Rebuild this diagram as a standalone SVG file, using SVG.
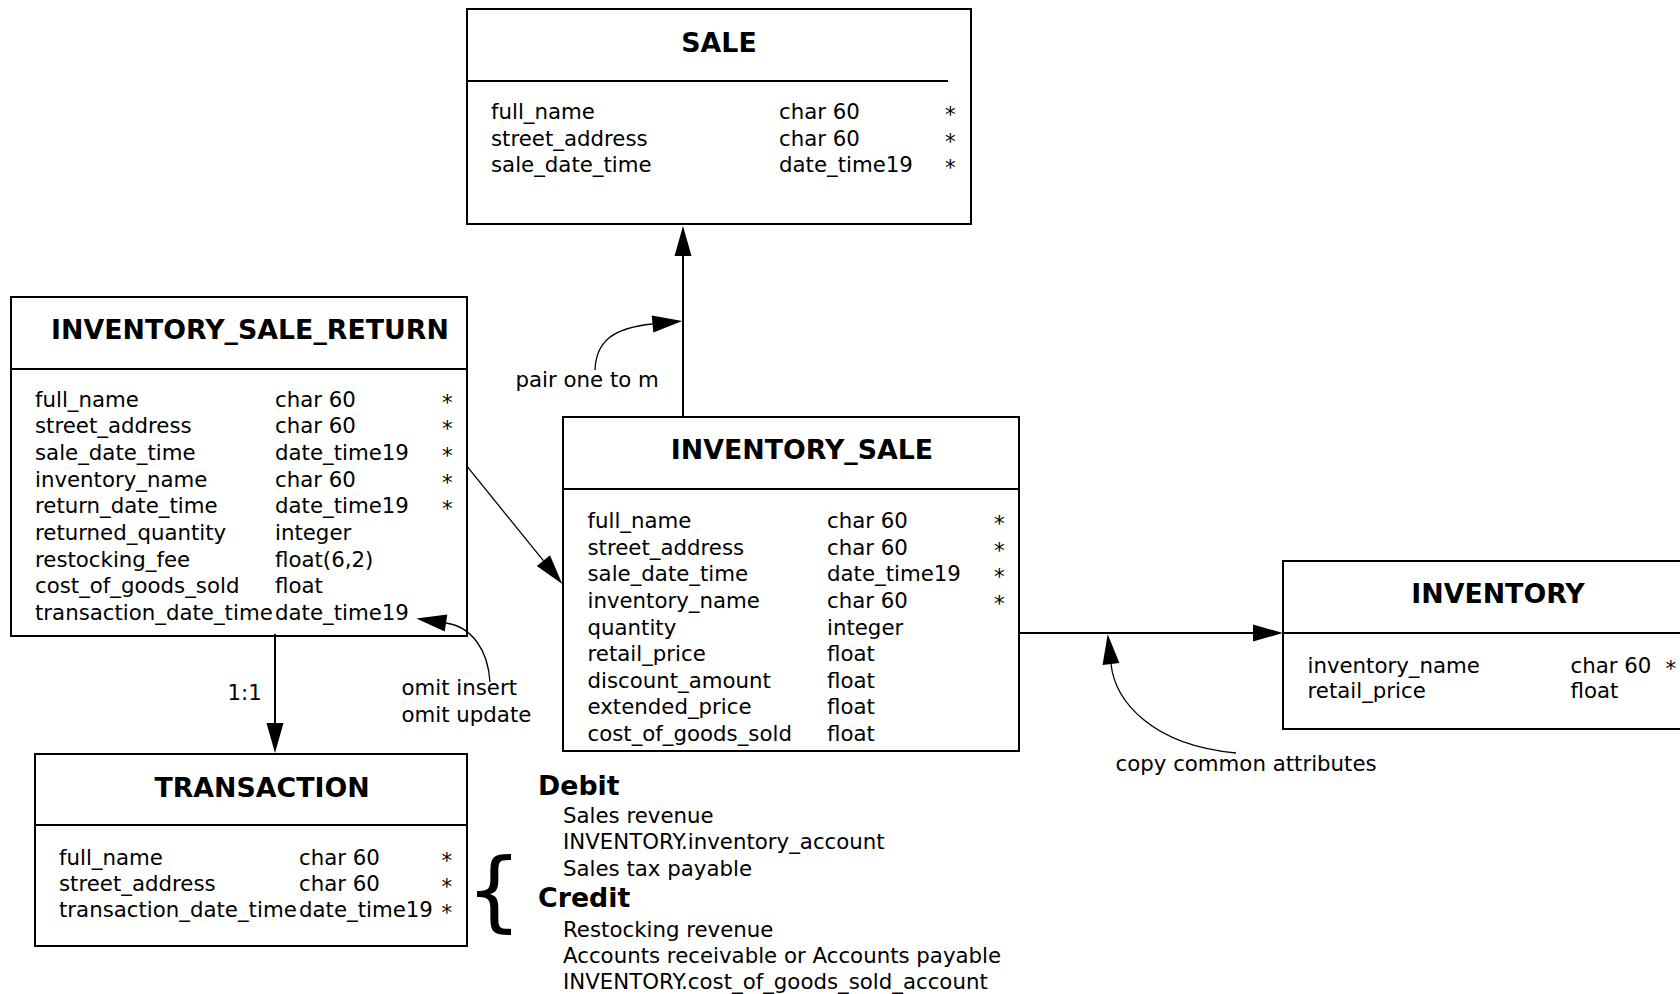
<svg xmlns="http://www.w3.org/2000/svg" width="1680" height="994" viewBox="0 0 1680 994">
<style>
text{font-family:"DejaVu Sans","Liberation Sans",sans-serif;fill:#000}
.t{font-size:26.8px;font-weight:bold;text-anchor:middle}
.r{font-size:21.3px}
.s{font-size:21.3px}
.h{font-size:26.8px;font-weight:bold}
.box{fill:#fff;stroke:#000;stroke-width:2}
.div{stroke:#000;stroke-width:2}
.c{fill:none;stroke:#000;stroke-width:2}
.a{fill:none;stroke:#000;stroke-width:1.3}
</style>
<defs>
<marker id="ah" markerUnits="userSpaceOnUse" markerWidth="32" markerHeight="19" refX="0" refY="8.5" orient="auto" overflow="visible"><path d="M0,0 L30,8.5 L0,17 z" fill="#000"/></marker>
</defs>
<rect width="1680" height="994" fill="#fff"/>

<g id="SALE">
<rect class="box" x="467" y="9" width="504" height="215"/>
<line class="div" x1="467" y1="81" x2="948" y2="81"/>
<text class="t" x="719" y="52">SALE</text>
<text class="r" x="491" y="119">full_name</text><text class="r" x="779" y="119">char 60</text><text class="s" x="945" y="122">*</text>
<text class="r" x="491" y="145.6">street_address</text><text class="r" x="779" y="145.6">char 60</text><text class="s" x="945" y="148.6">*</text>
<text class="r" x="491" y="172.2">sale_date_time</text><text class="r" x="779" y="172.2">date_time19</text><text class="s" x="945" y="175.2">*</text>
</g>

<g id="INVENTORY_SALE_RETURN">
<rect class="box" x="11" y="297" width="456" height="339"/>
<line class="div" x1="11" y1="369" x2="467" y2="369"/>
<text class="t" x="250" y="339">INVENTORY_SALE_RETURN</text>
<text class="r" x="35" y="406.7">full_name</text><text class="r" x="275" y="406.7">char 60</text><text class="s" x="442" y="409.7">*</text>
<text class="r" x="35" y="433.4">street_address</text><text class="r" x="275" y="433.4">char 60</text><text class="s" x="442" y="436.4">*</text>
<text class="r" x="35" y="460">sale_date_time</text><text class="r" x="275" y="460">date_time19</text><text class="s" x="442" y="463">*</text>
<text class="r" x="35" y="486.7">inventory_name</text><text class="r" x="275" y="486.7">char 60</text><text class="s" x="442" y="489.7">*</text>
<text class="r" x="35" y="513.4">return_date_time</text><text class="r" x="275" y="513.4">date_time19</text><text class="s" x="442" y="516.4">*</text>
<text class="r" x="35" y="540">returned_quantity</text><text class="r" x="275" y="540">integer</text>
<text class="r" x="35" y="566.7">restocking_fee</text><text class="r" x="275" y="566.7">float(6,2)</text>
<text class="r" x="35" y="593.4">cost_of_goods_sold</text><text class="r" x="275" y="593.4">float</text>
<text class="r" x="35" y="620">transaction_date_time</text><text class="r" x="275" y="620">date_time19</text>
</g>

<g id="INVENTORY_SALE">
<rect class="box" x="563" y="417" width="456" height="334"/>
<line class="div" x1="563" y1="489" x2="1019" y2="489"/>
<text class="t" x="802" y="459">INVENTORY_SALE</text>
<text class="r" x="587.5" y="528.3">full_name</text><text class="r" x="827" y="528.3">char 60</text><text class="s" x="994" y="531.3">*</text>
<text class="r" x="587.5" y="554.9">street_address</text><text class="r" x="827" y="554.9">char 60</text><text class="s" x="994" y="557.9">*</text>
<text class="r" x="587.5" y="581.4">sale_date_time</text><text class="r" x="827" y="581.4">date_time19</text><text class="s" x="994" y="584.4">*</text>
<text class="r" x="587.5" y="608">inventory_name</text><text class="r" x="827" y="608">char 60</text><text class="s" x="994" y="611">*</text>
<text class="r" x="587.5" y="634.5">quantity</text><text class="r" x="827" y="634.5">integer</text>
<text class="r" x="587.5" y="661.1">retail_price</text><text class="r" x="827" y="661.1">float</text>
<text class="r" x="587.5" y="687.6">discount_amount</text><text class="r" x="827" y="687.6">float</text>
<text class="r" x="587.5" y="714.2">extended_price</text><text class="r" x="827" y="714.2">float</text>
<text class="r" x="587.5" y="740.7">cost_of_goods_sold</text><text class="r" x="827" y="740.7">float</text>
</g>

<g id="INVENTORY">
<rect class="box" x="1283" y="561" width="440" height="168"/>
<line class="div" x1="1283" y1="633" x2="1723" y2="633"/>
<text class="t" x="1498" y="603">INVENTORY</text>
<text class="r" x="1307.5" y="672.5">inventory_name</text><text class="r" x="1570.5" y="672.5">char 60</text><text class="s" x="1665.5" y="675.5">*</text>
<text class="r" x="1307.5" y="698">retail_price</text><text class="r" x="1570.5" y="698">float</text>
</g>

<g id="TRANSACTION">
<rect class="box" x="35" y="754" width="432" height="192"/>
<line class="div" x1="35" y1="825" x2="467" y2="825"/>
<text class="t" x="262" y="796.5">TRANSACTION</text>
<text class="r" x="59" y="865">full_name</text><text class="r" x="299" y="865">char 60</text><text class="s" x="441.5" y="868">*</text>
<text class="r" x="59" y="890.8">street_address</text><text class="r" x="299" y="890.8">char 60</text><text class="s" x="441.5" y="893.8">*</text>
<text class="r" x="59" y="916.6">transaction_date_time</text><text class="r" x="299" y="916.6">date_time19</text><text class="s" x="441.5" y="919.6">*</text>
</g>

<g id="postings">
<text x="466" y="920" style="font-size:88px">{</text>
<text class="h" x="538" y="795">Debit</text>
<text class="r" x="563" y="823">Sales revenue</text>
<text class="r" x="563" y="849.3">INVENTORY.inventory_account</text>
<text class="r" x="563" y="875.5">Sales tax payable</text>
<text class="h" x="538" y="906.7">Credit</text>
<text class="r" x="563" y="936.7">Restocking revenue</text>
<text class="r" x="563" y="962.7">Accounts receivable or Accounts payable</text>
<text class="r" x="563" y="989">INVENTORY.cost_of_goods_sold_account</text>
</g>

<g id="connectors">
<path class="c" d="M683 417 L683 256" marker-end="url(#ah)"/>
<path class="a" d="M595 370 C596 342 612 328 652.5 324" marker-end="url(#ah)"/>
<text class="r" x="515.5" y="386.5">pair one to m</text>
<path class="a" d="M467.3 466.7 L543.4 560.7" marker-end="url(#ah)"/>
<path class="c" d="M275 634 L275 723" marker-end="url(#ah)"/>
<text class="r" x="227.5" y="700">1:1</text>
<path class="a" d="M490 682 C488 650 472 627 446 623" marker-end="url(#ah)"/>
<text class="r" x="401.5" y="695">omit insert</text>
<text class="r" x="401.5" y="721.7">omit update</text>
<path class="c" d="M1019 633 L1253 633" marker-end="url(#ah)"/>
<path class="a" d="M1236 753 C1150 745 1115 700 1111 664" marker-end="url(#ah)"/>
<text class="r" x="1115.5" y="771">copy common attributes</text>
</g>
</svg>
